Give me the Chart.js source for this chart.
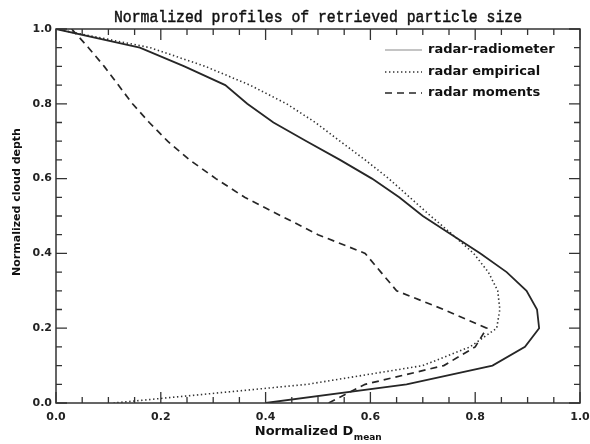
<!DOCTYPE html>
<html><head><meta charset="utf-8">
<script src="https://cdn.jsdelivr.net/npm/chart.js@4/dist/chart.umd.min.js"></script>
<style>html,body{margin:0;padding:0;background:#fff}#wrap{width:590px;height:444px}</style>
</head><body><div id="wrap"><canvas id="c" width="590" height="444"></canvas></div>
<script>
// ---- data ----
const depthLevels      = [1.00,0.95,0.90,0.85,0.80,0.75,0.70,0.65,0.60,0.55,0.50,0.45,0.40,0.35,0.30,0.25,0.20,0.15,0.10,0.05,0.00];
const radarRadiometer  = [0.00,0.16,0.245,0.323,0.365,0.415,0.478,0.542,0.603,0.655,0.700,0.755,0.810,0.860,0.898,0.918,0.922,0.895,0.833,0.669,0.400];
const radarEmpirical   = [0.00,0.18,0.285,0.37,0.44,0.495,0.542,0.59,0.635,0.675,0.715,0.757,0.797,0.825,0.843,0.847,0.841,0.79,0.70,0.48,0.11];
const radarMoments     = [0.03,0.062,0.092,0.119,0.146,0.178,0.213,0.255,0.305,0.36,0.43,0.50,0.59,0.62,0.65,0.74,0.822,0.80,0.74,0.59,0.52];
const seriesNames      = ['radar-radiometer','radar empirical','radar moments'];
const xTickValues      = [0.0,0.2,0.4,0.6,0.8,1.0];
const yTickValues      = [0.0,0.2,0.4,0.6,0.8,1.0];
const chartTitle       = 'Normalized profiles of retrieved particle size';
const yAxisTitle       = 'Normalized cloud depth';
const xAxisTitleMain   = 'Normalized D';
const xAxisTitleSub    = 'mean';

const toPoints = xs => xs.map((x,i)=>({x:x, y:depthLevels[i]}));
const INK = '#262626';

const decorPlugin = {
  id:'decor',
  afterDraw(chart){
    const {ctx, chartArea:a, scales:{x, y}} = chart;
    ctx.save();
    // frame
    ctx.strokeStyle = '#333'; ctx.lineWidth = 1.5;
    ctx.strokeRect(a.left, a.top, a.right-a.left, a.bottom-a.top);
    // inward ticks on all sides, minor every 0.05
    ctx.lineWidth = 1.3;
    for (let i=0;i<=20;i++){
      const v = i/20, major = (i%4===0), len = major?11:6;
      const px = x.getPixelForValue(v), py = y.getPixelForValue(v);
      ctx.beginPath();
      ctx.moveTo(px, a.bottom); ctx.lineTo(px, a.bottom-len);
      ctx.moveTo(px, a.top);    ctx.lineTo(px, a.top+len);
      ctx.moveTo(a.left, py);   ctx.lineTo(a.left+len, py);
      ctx.moveTo(a.right, py);  ctx.lineTo(a.right-len, py);
      ctx.stroke();
    }
    // title (condensed monospace, slightly heavier)
    ctx.fillStyle = '#111'; ctx.strokeStyle = '#111';
    ctx.font = '17px "Liberation Mono"';
    ctx.textAlign = 'center'; ctx.textBaseline = 'alphabetic';
    const tw = ctx.measureText(chartTitle).width;
    const sx = 408 / tw;
    ctx.save();
    ctx.translate((a.left+a.right)/2, 22);
    ctx.scale(sx, 1);
    ctx.lineWidth = 0.5;
    ctx.fillText(chartTitle, 0, 0);
    ctx.strokeText(chartTitle, 0, 0);
    ctx.restore();
    // y axis title
    ctx.font = 'bold 11px "DejaVu Sans"';
    ctx.textBaseline = 'middle';
    ctx.save();
    ctx.translate(17, (a.top+a.bottom)/2 - 14);
    ctx.rotate(-Math.PI/2);
    ctx.fillText(yAxisTitle, 0, 0);
    ctx.restore();
    // x axis title with subscript
    const mainFont = 'bold 13px "DejaVu Sans"', subFont = 'bold 9px "DejaVu Sans"';
    ctx.font = mainFont;
    const wMain = ctx.measureText(xAxisTitleMain).width;
    ctx.font = subFont;
    const wSub = ctx.measureText(xAxisTitleSub).width;
    const x0 = (a.left+a.right)/2 - (wMain+wSub)/2;
    ctx.textAlign = 'left'; ctx.textBaseline = 'alphabetic';
    ctx.font = mainFont;
    ctx.fillText(xAxisTitleMain, x0, 435);
    ctx.font = subFont;
    ctx.fillText(xAxisTitleSub, x0+wMain+0.5, 440);
    // legend
    const styles = chart.data.datasets;
    const rows = [50, 72, 93];
    ctx.font = 'bold 13px "DejaVu Sans"';
    ctx.textBaseline = 'middle';
    styles.forEach((ds,i)=>{
      const yy = rows[i];
      ctx.beginPath();
      ctx.strokeStyle = i===0 ? '#b0b0b0' : ds.borderColor;
      ctx.lineWidth = i===0 ? 1.5 : ds.borderWidth;
      ctx.setLineDash(ds.borderDash || []);
      ctx.moveTo(385, yy); ctx.lineTo(422, yy); ctx.stroke();
      ctx.setLineDash([]);
      ctx.fillStyle = '#111';
      ctx.fillText(ds.label, 428, yy);
    });
    ctx.restore();
  }
};

new Chart(document.getElementById('c'), {
  type:'scatter',
  data:{ datasets:[
    {label:seriesNames[0], data:toPoints(radarRadiometer), showLine:true, borderColor:INK, borderWidth:1.8, pointRadius:0, tension:0},
    {label:seriesNames[1], data:toPoints(radarEmpirical),  showLine:true, borderColor:'#333', borderWidth:1.6, borderDash:[1.4,2.6], pointRadius:0, tension:0},
    {label:seriesNames[2], data:toPoints(radarMoments),    showLine:true, borderColor:INK, borderWidth:1.7, borderDash:[7,5], pointRadius:0, tension:0}
  ]},
  options:{
    responsive:false, animation:false, devicePixelRatio:1,
    layout:{padding:{top:29,right:10,left:0,bottom:0}},
    plugins:{legend:{display:false}, title:{display:false}, tooltip:{enabled:false}},
    scales:{
      x:{type:'linear', min:0, max:1,
         afterBuildTicks:s=>{s.ticks = xTickValues.map(v=>({value:v}));},
         afterFit:s=>{s.height = 41; s.paddingLeft = 0; s.paddingRight = 0;},
         ticks:{callback:v=>Number(v).toFixed(1), font:{family:'DejaVu Sans', weight:'bold', size:11}, color:'#222', padding:8, maxRotation:0, autoSkip:false},
         grid:{display:false, drawTicks:false}, border:{display:false}},
      y:{type:'linear', min:0, max:1,
         afterBuildTicks:s=>{s.ticks = yTickValues.map(v=>({value:v}));},
         afterFit:s=>{s.width = 56; s.paddingTop = 0; s.paddingBottom = 0;},
         ticks:{callback:v=>Number(v).toFixed(1), font:{family:'DejaVu Sans', weight:'bold', size:11}, color:'#222', padding:4, autoSkip:false},
         grid:{display:false, drawTicks:false}, border:{display:false}}
    }
  },
  plugins:[decorPlugin]
});
</script></body></html>
